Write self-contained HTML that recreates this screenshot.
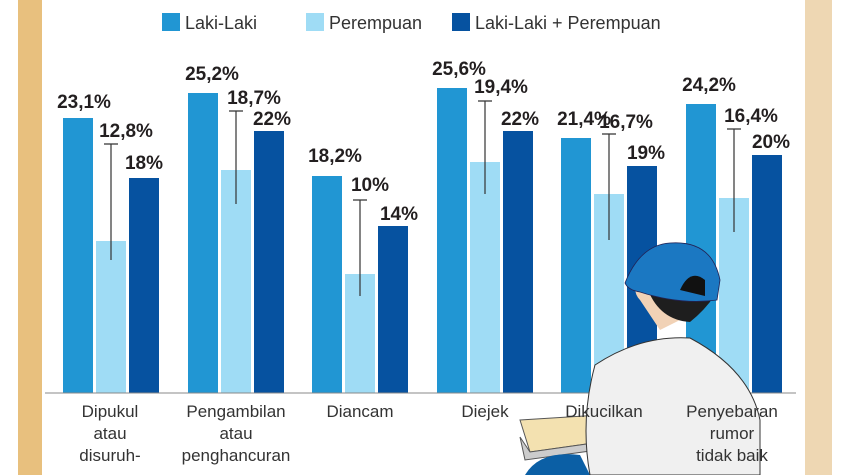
<!DOCTYPE html>
<html><head><meta charset="utf-8"><style>
body{margin:0;background:#fff;}
svg{display:block;font-family:"Liberation Sans",sans-serif;}
.v{font-weight:bold;font-size:19px;fill:#231f20;text-anchor:middle}
.c{font-size:17px;fill:#333;text-anchor:middle}
.l{font-size:18px;fill:#333}
</style></head><body>
<svg width="845" height="475" viewBox="0 0 845 475">
<rect width="845" height="475" fill="#fff"/>
<rect x="18" y="0" width="24" height="475" fill="#e8c07e"/>
<rect x="805" y="0" width="27" height="475" fill="#eed7b3"/>
<!-- legend -->
<rect x="162" y="13" width="18" height="18" fill="#2196d3"/><text class="l" x="185" y="29">Laki-Laki</text>
<rect x="306" y="13" width="18" height="18" fill="#9fdcf5"/><text class="l" x="329" y="29">Perempuan</text>
<rect x="452" y="13" width="18" height="18" fill="#0652a0"/><text class="l" x="475" y="29">Laki-Laki + Perempuan</text>
<g>
<rect x="63" y="118" width="30" height="275" fill="#2196d3"/><rect x="96" y="241" width="30" height="152" fill="#9fdcf5"/><rect x="129" y="178" width="30" height="215" fill="#0652a0"/>
<rect x="188" y="93" width="30" height="300" fill="#2196d3"/><rect x="221" y="170" width="30" height="223" fill="#9fdcf5"/><rect x="254" y="131" width="30" height="262" fill="#0652a0"/>
<rect x="312" y="176" width="30" height="217" fill="#2196d3"/><rect x="345" y="274" width="30" height="119" fill="#9fdcf5"/><rect x="378" y="226" width="30" height="167" fill="#0652a0"/>
<rect x="437" y="88" width="30" height="305" fill="#2196d3"/><rect x="470" y="162" width="30" height="231" fill="#9fdcf5"/><rect x="503" y="131" width="30" height="262" fill="#0652a0"/>
<rect x="561" y="138" width="30" height="255" fill="#2196d3"/><rect x="594" y="194" width="30" height="199" fill="#9fdcf5"/><rect x="627" y="166" width="30" height="227" fill="#0652a0"/>
<rect x="686" y="104" width="30" height="289" fill="#2196d3"/><rect x="719" y="198" width="30" height="195" fill="#9fdcf5"/><rect x="752" y="155" width="30" height="238" fill="#0652a0"/>
</g>
<g stroke="#333" stroke-width="1.2">
<path d="M104 144H118M111 144V260"/><path d="M229 111H243M236 111V204"/><path d="M353 200H367M360 200V296"/>
<path d="M478 101H492M485 101V194"/><path d="M602 134H616M609 134V240"/><path d="M727 129H741M734 129V232"/>
</g>
<line x1="45" y1="393" x2="796" y2="393" stroke="#888" stroke-width="1"/>
<g class="v">
<text x="84" y="108">23,1%</text><text x="126" y="137">12,8%</text><text x="144" y="169">18%</text>
<text x="212" y="80">25,2%</text><text x="254" y="104">18,7%</text><text x="272" y="125">22%</text>
<text x="335" y="162">18,2%</text><text x="370" y="191">10%</text><text x="399" y="220">14%</text>
<text x="459" y="75">25,6%</text><text x="501" y="93">19,4%</text><text x="520" y="125">22%</text>
<text x="584" y="125">21,4%</text><text x="626" y="128">16,7%</text><text x="646" y="159">19%</text>
<text x="709" y="91">24,2%</text><text x="751" y="122">16,4%</text><text x="771" y="148">20%</text>
</g>
<g class="c">
<text x="110" y="417">Dipukul</text><text x="110" y="439">atau</text><text x="110" y="461">disuruh-</text>
<text x="236" y="417">Pengambilan</text><text x="236" y="439">atau</text><text x="236" y="461">penghancuran</text>
<text x="360" y="417">Diancam</text><text x="485" y="417">Diejek</text>
</g>
<!-- illustration -->
<path d="M520 420 L600 415 L615 440 L530 452 Z" fill="#f3e1b0" stroke="#555"/>
<path d="M520 437 L530 452 L615 440 L612 448 L525 460Z" fill="#ccc" stroke="#555"/>
<path d="M525 475 Q540 450 580 455 L590 475Z" fill="#0b5fa5"/>
<path d="M640 300 Q630 290 640 270 Q660 250 690 260 Q700 280 690 315 L660 330Z" fill="#f1d2b6"/>
<path d="M648 290 Q660 320 690 322 Q705 310 715 295 L700 282 Q670 298 648 290Z" fill="#1e1e1e"/>
<path d="M625 283 Q640 245 670 243 Q712 240 720 280 L717 300 Q680 305 640 292 Q628 290 625 283Z" fill="#1b78c2" stroke="#225" stroke-width="0.8"/>
<path d="M680 290 Q690 268 705 280 L705 296Z" fill="#111"/>
<path d="M595 365 Q640 335 690 338 Q750 370 760 420 L760 475 L590 475 Q580 420 595 365Z" fill="#f0f0f0" stroke="#333" stroke-width="1"/>
<g class="c">
<text x="604" y="417">Dikucilkan</text>
<text x="732" y="417">Penyebaran</text><text x="732" y="439">rumor</text><text x="732" y="461">tidak baik</text>
</g>
</svg>
</body></html>
